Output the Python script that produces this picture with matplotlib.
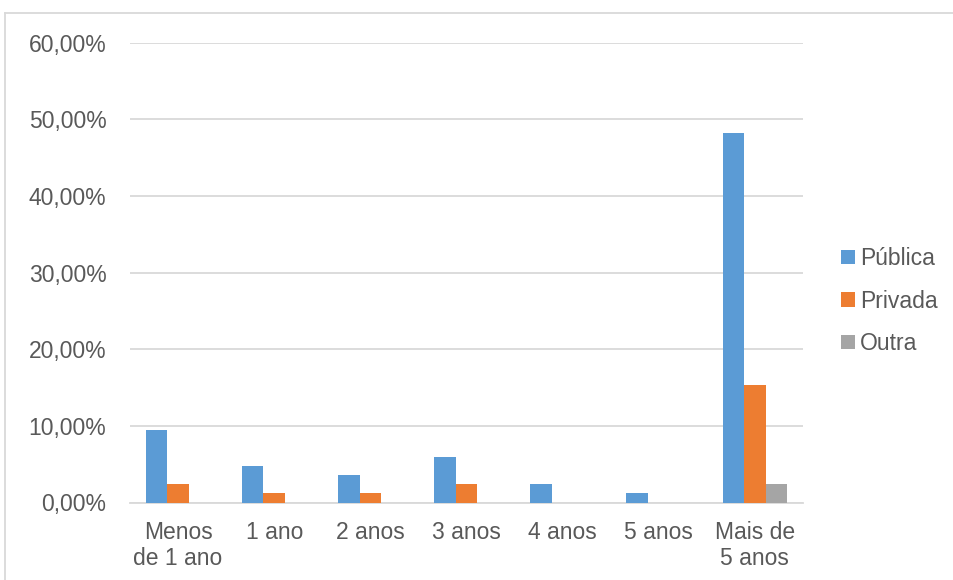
import numpy as np
import matplotlib
import matplotlib.pyplot as plt
from matplotlib.lines import Line2D
from matplotlib.ticker import FuncFormatter

matplotlib.rcParams.update({"font.family": "Liberation Sans", "font.size": 16.5})

categorias = ["Menos\nde 1 ano", "1 ano", "2 anos", "3 anos", "4 anos", "5 anos", "Mais de\n5 anos"]
publica = [9.41, 4.71, 3.53, 5.88, 2.35, 1.18, 48.24]
privada = [2.35, 1.18, 1.18, 2.35, 0.0, 0.0, 15.29]
outra = [0.0, 0.0, 0.0, 0.0, 0.0, 0.0, 2.35]

serie_nomes = ["Pública", "Privada", "Outra"]
serie_cores = ["#5B9BD5", "#ED7D31", "#A5A5A5"]
texto_cor = "#595959"
grade_cor = "#D9D9D9"

fig = plt.figure(figsize=(9.54, 5.8), dpi=100)
ax = fig.add_axes([130 / 954, 1 - 502.5 / 580, 673 / 954, 459.8 / 580])

x = np.arange(len(categorias))
w = 0.224
for k, (vals, nome, cor) in enumerate(zip([publica, privada, outra], serie_nomes, serie_cores)):
    ax.bar(x + (k - 1) * w, vals, width=w, color=cor, label=nome, zorder=3)

ax.set_xlim(-0.5, len(categorias) - 0.5)
ax.set_ylim(0, 60)
ax.set_yticks(np.arange(0, 61, 10))
ax.yaxis.set_major_formatter(FuncFormatter(lambda v, p: f"{v:.2f}%".replace(".", ",")))
ax.set_xticks(x)
ax.set_xticklabels(categorias, linespacing=1.2)

ax.grid(axis="y", color=grade_cor, linewidth=1.3, zorder=0)
for s in ["top", "right", "left"]:
    ax.spines[s].set_visible(False)
ax.spines["bottom"].set_color(grade_cor)
ax.spines["bottom"].set_linewidth(1.3)
ax.tick_params(axis="both", length=0, colors=texto_cor)
ax.tick_params(axis="y", pad=17)
ax.tick_params(axis="x", pad=13)

leg = fig.legend(
    loc="center left",
    bbox_to_anchor=(841 / 954, 1 - 301 / 580),
    frameon=False,
    handlelength=0.6,
    handleheight=0.6,
    handletextpad=0.22,
    labelspacing=0.85,
    borderaxespad=0,
    borderpad=0,
)
for t in leg.get_texts():
    t.set_color(texto_cor)

# moldura do gráfico
fig.add_artist(Line2D([5 / 954, 1.0], [1 - 13 / 580] * 2, color=grade_cor, linewidth=1.3))
fig.add_artist(Line2D([5 / 954] * 2, [0.0, 1 - 13 / 580], color=grade_cor, linewidth=1.3))

fig.savefig("out.png", dpi=100)
